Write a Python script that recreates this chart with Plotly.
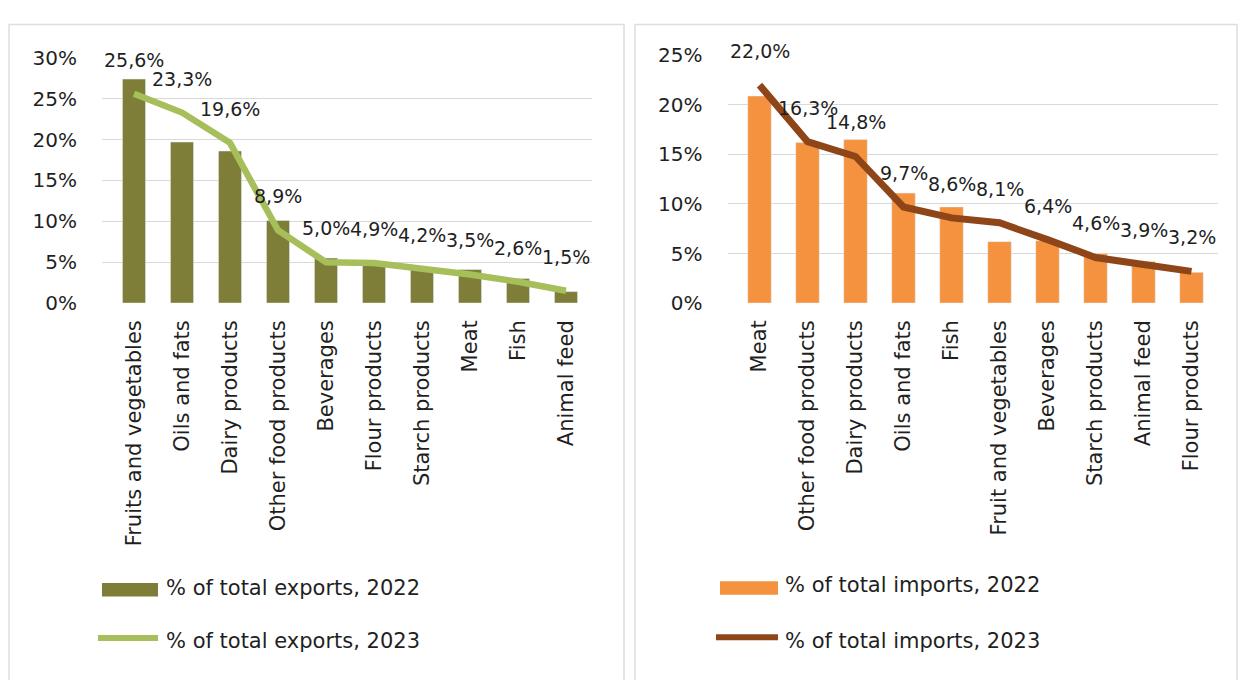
import plotly.graph_objects as go

# Export structure by product group
export_categories = ["Fruits and vegetables", "Oils and fats", "Dairy products",
                     "Other food products", "Beverages", "Flour products",
                     "Starch products", "Meat", "Fish", "Animal feed"]
exports_2022 = [27.4, 19.7, 18.6, 10.1, 5.5, 4.7, 4.3, 4.1, 3.0, 1.4]
exports_2023 = [25.6, 23.3, 19.6, 8.9, 5.0, 4.9, 4.2, 3.5, 2.6, 1.5]

# Import structure by product group
import_categories = ["Meat", "Other food products", "Dairy products", "Oils and fats",
                     "Fish", "Fruit and vegetables", "Beverages", "Starch products",
                     "Animal feed", "Flour products"]
imports_2022 = [20.9, 16.2, 16.5, 11.1, 9.7, 6.2, 6.3, 5.0, 4.2, 3.1]
imports_2023 = [22.0, 16.3, 14.8, 9.7, 8.6, 8.1, 6.4, 4.6, 3.9, 3.2]

export_ticks = [0, 5, 10, 15, 20, 25, 30]
import_ticks = [0, 5, 10, 15, 20, 25]

legend_labels = ["% of total exports, 2022", "% of total exports, 2023",
                 "% of total imports, 2022", "% of total imports, 2023"]

W, H = 1246, 680
FONT = "DejaVu Sans"
TXT = "#1f1f1f"
GRID = "#d9d9d9"

OLIVE = "#7e7e38"
LIGHT_GREEN = "#a6bf5b"
ORANGE = "#f4923f"
BROWN = "#8e4518"


def px_x(p):
    return p / W


def px_y(p):
    return 1 - p / H


def pct(v):
    return f"{v:.1f}%".replace(".", ",")


fig = go.Figure()

fig.add_trace(go.Bar(x=export_categories, y=exports_2022, marker_color=OLIVE,
                     width=0.48, name=legend_labels[0], xaxis="x", yaxis="y"))
fig.add_trace(go.Scatter(x=export_categories, y=exports_2023, mode="lines",
                         line=dict(color=LIGHT_GREEN, width=6.5), name=legend_labels[1],
                         xaxis="x", yaxis="y"))
fig.add_trace(go.Bar(x=import_categories, y=imports_2022, marker_color=ORANGE,
                     width=0.49, name=legend_labels[2], xaxis="x2", yaxis="y2"))
fig.add_trace(go.Scatter(x=import_categories, y=imports_2023, mode="lines",
                         line=dict(color=BROWN, width=7), name=legend_labels[3],
                         xaxis="x2", yaxis="y2"))

value_font = dict(family=FONT, size=19, color=TXT)
legend_font = dict(family=FONT, size=21, color=TXT)

annotations = []
# value labels above the 2023 lines
for cat, v in zip(export_categories, exports_2023):
    annotations.append(dict(x=cat, y=v, xref="x", yref="y", text=pct(v),
                            showarrow=False, yshift=34, font=value_font))
for cat, v in zip(import_categories, imports_2023):
    annotations.append(dict(x=cat, y=v, xref="x2", yref="y2", text=pct(v),
                            showarrow=False, yshift=34, font=value_font))

shapes = []
# panel frames
for x0, x1 in [(9, 624), (635, 1237)]:
    shapes.append(dict(type="rect", xref="paper", yref="paper",
                       x0=px_x(x0), x1=px_x(x1), y0=-0.02, y1=px_y(13),
                       line=dict(color="#dedede", width=1.5), fillcolor="rgba(0,0,0,0)",
                       layer="below"))

# legend swatches and texts
legend_items = [
    # (swatch kind, colour, swatch x0, x1, swatch y, text x, text y, label)
    ("bar", OLIVE, 102, 158, 599, 164, 597, legend_labels[0]),
    ("line", LIGHT_GREEN, 98, 158, 649, 164, 652, legend_labels[1]),
    ("bar", ORANGE, 720, 778, 597, 783, 594, legend_labels[2]),
    ("line", BROWN, 716, 778, 648, 783, 652, legend_labels[3]),
]
for kind, col, x0, x1, ys, xt, yt, label in legend_items:
    if kind == "bar":
        shapes.append(dict(type="rect", xref="paper", yref="paper",
                           x0=px_x(x0), x1=px_x(x1), y0=px_y(ys + 7), y1=px_y(ys - 7),
                           line=dict(width=0), fillcolor=col))
    else:
        shapes.append(dict(type="line", xref="paper", yref="paper",
                           x0=px_x(x0), x1=px_x(x1), y0=px_y(ys), y1=px_y(ys),
                           line=dict(color=col, width=6)))
    annotations.append(dict(x=px_x(xt), y=px_y(yt), xref="paper", yref="paper",
                            text=label, showarrow=False, xanchor="left",
                            yanchor="middle", font=legend_font))

cat_font = dict(family=FONT, size=21, color=TXT)
tick_font = dict(family=FONT, size=20, color=TXT)

fig.update_layout(
    width=W, height=H,
    margin=dict(l=0, r=0, t=0, b=0),
    paper_bgcolor="white", plot_bgcolor="white",
    showlegend=False,
    font=dict(family=FONT, color=TXT),
    xaxis=dict(domain=[px_x(102), px_x(592)], type="category",
               categoryorder="array", categoryarray=export_categories,
               tickangle=-90, tickfont=cat_font, showgrid=False,
               showline=False, zeroline=False, ticks="", ticklabelstandoff=12,
               anchor="y"),
    yaxis=dict(domain=[px_y(301.7), px_y(47.5)], range=[0, 30],
               tickvals=export_ticks, ticktext=[f"{t}%" for t in export_ticks],
               tickfont=tick_font, showgrid=True, gridcolor=GRID, gridwidth=1,
               zeroline=False, showline=False, ticks="", ticklabelstandoff=24,
               anchor="x"),
    xaxis2=dict(domain=[px_x(727.5), px_x(1217.5)], type="category",
                categoryorder="array", categoryarray=import_categories,
                tickangle=-90, tickfont=cat_font, showgrid=False,
                showline=False, zeroline=False, ticks="", ticklabelstandoff=12,
                anchor="y2"),
    yaxis2=dict(domain=[px_y(301.7), px_y(45)], range=[0, 25],
                tickvals=import_ticks, ticktext=[f"{t}%" for t in import_ticks],
                tickfont=tick_font, showgrid=True, gridcolor=GRID, gridwidth=1,
                zeroline=False, showline=False, ticks="", ticklabelstandoff=24,
                anchor="x2"),
    shapes=shapes,
    annotations=annotations,
)

fig.write_html("out.html")
